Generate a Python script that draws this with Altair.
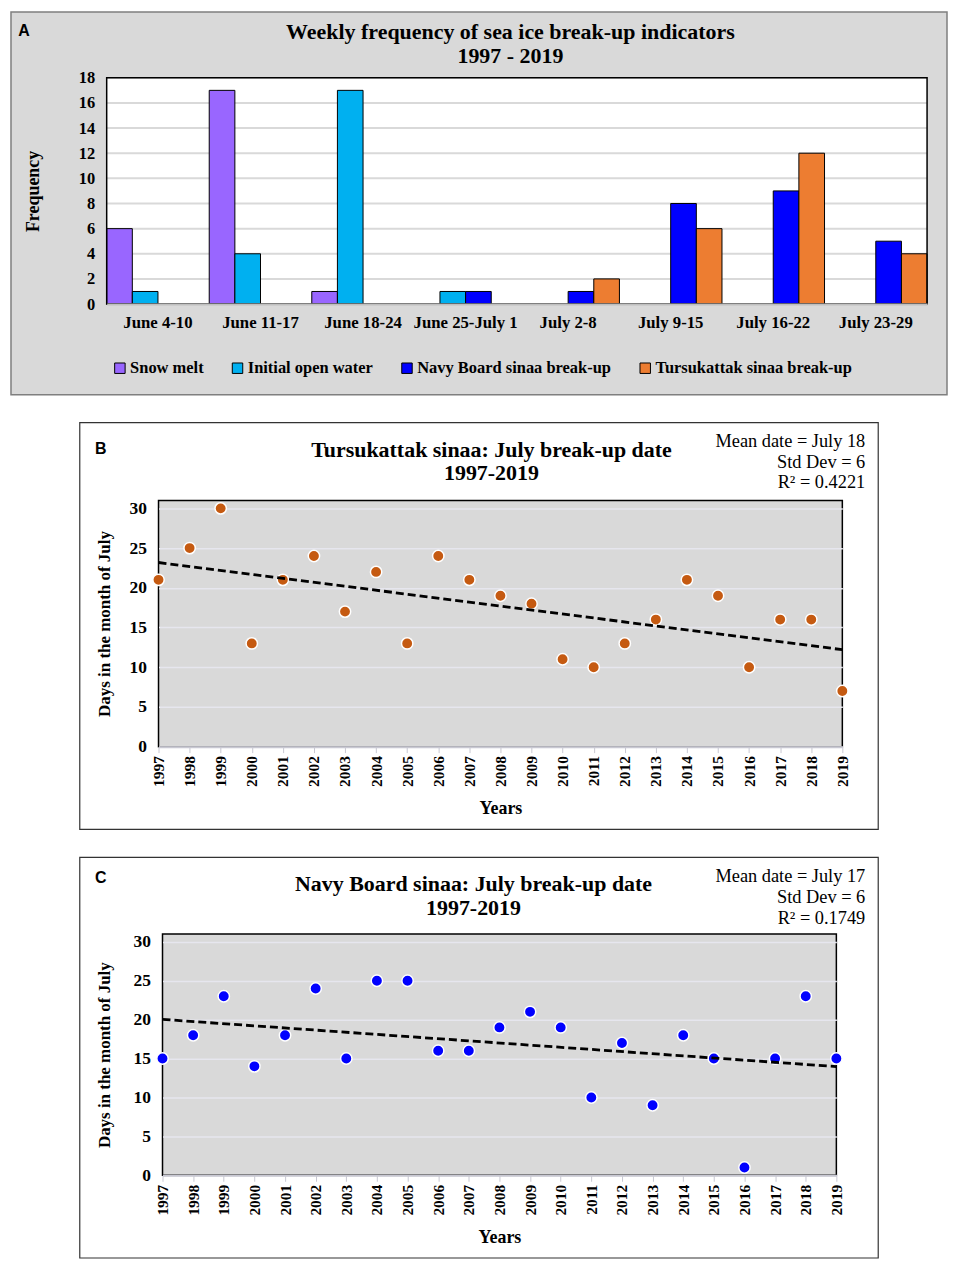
import altair as alt
import pandas as pd

# ---------------- data ----------------
weeks = ["June 4-10", "June 11-17", "June 18-24", "June 25-July 1",
         "July 2-8", "July 9-15", "July 16-22", "July 23-29"]
series = ["Snow melt", "Initial open water",
          "Navy Board sinaa break-up", "Tursukattak sinaa break-up"]
snow_melt = [6, 17, 1, 0, 0, 0, 0, 0]
open_water = [1, 4, 17, 1, 0, 0, 0, 0]
navy_board = [0, 0, 0, 1, 1, 8, 9, 5]
tursukattak = [0, 0, 0, 0, 2, 6, 12, 4]
series_colors = ["#9966FF", "#00B0F0", "#0000FF", "#ED7D31"]
freq_ticks = [0, 2, 4, 6, 8, 10, 12, 14, 16, 18]

years = list(range(1997, 2020))
tursukattak_days = [21, 25, 30, 13, 21, 24, 17, 22, 13, 24, 21, 19,
                    18, 11, 10, 13, 16, 21, 19, 10, 16, 16, 7]
navy_days = [15, 18, 23, 14, 18, 24, 15, 25, 25, 16, 16, 19,
             21, 19, 10, 17, 9, 18, 15, 1, 15, 23, 15]
day_ticks = [0, 5, 10, 15, 20, 25, 30]

title_a = ["Weekly frequency of sea ice break-up indicators", "1997 - 2019"]
title_b = ["Tursukattak sinaa: July break-up date", "1997-2019"]
title_c = ["Navy Board sinaa: July break-up date", "1997-2019"]
annot_b = ["Mean date = July 18", "Std Dev = 6", "R\u00b2 = 0.4221"]
annot_c = ["Mean date = July 17", "Std Dev = 6", "R\u00b2 = 0.1749"]

SERIF = "Liberation Serif"
SANS = "Liberation Sans"
one = pd.DataFrame({"k": [0]})


def text_layer(txt, x, y, size, weight="normal", font=SERIF, align="center"):
    return alt.Chart(one).mark_text(
        text=txt, font=font, fontSize=size, fontWeight=weight, align=align,
        baseline="middle", color="black").encode(x=alt.value(x), y=alt.value(y))


def lead():
    # tiny blank cell so that each row's left edge starts at the same place
    return alt.Chart(one).mark_rect(fill="white").encode(
        x=alt.value(0), x2=alt.value(1), y=alt.value(0), y2=alt.value(1)
    ).properties(width=1, height=1,
                 view=alt.ViewBackground(fill="white", strokeWidth=0))


# ---------------- panel A ----------------
W_A, H_A = 823, 227
rows = []
for s, vals in zip(series, [snow_melt, open_water, navy_board, tursukattak]):
    for w, v in zip(weeks, vals):
        rows.append({"week": w, "series": s, "freq": v})
df_a = pd.DataFrame(rows)

y_a = dict(
    scale=alt.Scale(domain=[0, 18], nice=False),
    axis=alt.Axis(values=freq_ticks, title="Frequency", grid=False, domain=False,
                  ticks=False, labelPadding=12, labelFont=SERIF, labelFontSize=16.5,
                  labelFontWeight="bold", labelColor="black", titleFont=SERIF,
                  titleFontSize=18, titleFontWeight="bold", titleColor="black",
                  titlePadding=36, zindex=1),
)

box_a = alt.Chart(one).mark_rect(fill="#d9d9d9", stroke="#7f7f7f", strokeWidth=1.5).encode(
    x=alt.value(-96), x2=alt.value(W_A + 20), y=alt.value(-66), y2=alt.value(H_A + 91))
bg_a = alt.Chart(one).mark_rect(fill="white").encode(
    x=alt.value(0), x2=alt.value(W_A), y=alt.value(0), y2=alt.value(H_A))
grid_a = alt.Chart(pd.DataFrame({"freq": freq_ticks[1:]})).mark_rule(
    color="#d9d9d9", strokeWidth=2).encode(y=alt.Y("freq:Q", **y_a))
bars_a = alt.Chart(df_a).transform_filter("datum.freq > 0").mark_bar(
    stroke="black", strokeWidth=1).encode(
    x=alt.X("week:N", sort=weeks,
            scale=alt.Scale(domain=weeks, paddingInner=0, paddingOuter=0),
            axis=alt.Axis(title=None, labelAngle=0, ticks=False, domainColor="#bfbfbf",
                          domainWidth=2, labelFont=SERIF, labelFontSize=16.8,
                          labelFontWeight="bold", labelColor="black", labelPadding=11,
                          labelLimit=0, zindex=1)),
    xOffset=alt.XOffset("series:N", scale=alt.Scale(domain=series)),
    y=alt.Y("freq:Q", **y_a),
    color=alt.Color("series:N", scale=alt.Scale(domain=series, range=series_colors),
                    legend=alt.Legend(title=None, orient="none", legendX=104, legendY=283,
                                      direction="horizontal", columns=4,
                                      symbolType="square", symbolSize=110,
                                      symbolStrokeColor="black", symbolStrokeWidth=1,
                                      labelFont=SERIF, labelFontSize=16.5,
                                      labelFontWeight="bold", labelColor="black",
                                      labelLimit=0, columnPadding=25, labelOffset=2)),
)
frame_a = alt.Chart(one).mark_rect(fill="white", fillOpacity=0, stroke="black",
                                   strokeWidth=1.5).encode(
    x=alt.value(0), x2=alt.value(W_A), y=alt.value(0), y2=alt.value(H_A))

panel_a = alt.layer(
    box_a, bg_a, grid_a, bars_a, frame_a,
    text_layer("A", -83, -47, 16, "bold", SANS),
    text_layer(title_a[0], 405, -46, 22, "bold"),
    text_layer(title_a[1], 405, -22, 22, "bold"),
).properties(width=W_A, height=H_A)


# ---------------- panels B and C ----------------
def scatter_panel(days, color, W, H, box, title, title_x, title_y, annot, annot_dx,
                  annot_y, letter, letter_xy, ytitle_pad):
    df = pd.DataFrame({"year": years, "day": days})
    x_enc = alt.X("year:Q", scale=alt.Scale(domain=[1997, 2019], nice=False, zero=False),
                  axis=alt.Axis(values=years, format="d", labelAngle=270, title="Years",
                                grid=False, tickColor="#c8c8d2", tickSize=6,
                                domainColor="#c8c8d2", domainWidth=2, labelFont=SERIF,
                                labelFontSize=15.5, labelFontWeight="bold",
                                labelColor="black", labelPadding=3, titleFont=SERIF,
                                titleFontSize=18, titleFontWeight="bold",
                                titleColor="black", titlePadding=13))
    y_enc = alt.Y("day:Q", scale=alt.Scale(domain=[0, 31], nice=False),
                  axis=alt.Axis(values=day_ticks, title="Days in the month of July",
                                grid=True, gridColor="#e6e6ee", gridWidth=1.5,
                                domain=False, ticks=False, labelPadding=12,
                                labelFont=SERIF, labelFontSize=17.5, labelFontWeight="bold",
                                labelColor="black", titleFont=SERIF, titleFontSize=17,
                                titleFontWeight="bold", titleColor="black",
                                titlePadding=ytitle_pad))
    bl, br, bt, bb = box
    spacer = alt.Chart(one).mark_rect(fill="white").encode(
        x=alt.value(bl - 70), x2=alt.value(bl - 68), y=alt.value(0), y2=alt.value(4))
    outline = alt.Chart(one).mark_rect(fill="white", fillOpacity=0, stroke="#333333",
                                       strokeWidth=1.2).encode(
        x=alt.value(bl), x2=alt.value(W + br), y=alt.value(bt), y2=alt.value(H + bb))
    pts = alt.Chart(df).mark_circle(size=130, color=color, opacity=1, stroke="white",
                                    strokeWidth=1.5).encode(x=x_enc, y=y_enc)
    trend = alt.Chart(df).transform_regression("year", "day").mark_line(
        color="black", strokeDash=[8, 4], strokeWidth=2.8).encode(x=x_enc, y=y_enc)
    layers = [spacer, outline, pts, trend]
    for i, line in enumerate(annot):
        layers.append(text_layer(line, W + annot_dx, annot_y + 21 * i, 18.4, align="right"))
    layers.append(text_layer(letter, letter_xy[0], letter_xy[1], 16, "bold", SANS))
    layers.append(text_layer(title[0], title_x, title_y, 22, "bold"))
    layers.append(text_layer(title[1], title_x, title_y + 24, 22, "bold"))
    return alt.layer(*layers).properties(
        width=W, height=H,
        view=alt.ViewBackground(fill="#d9d9d9", stroke="black", strokeWidth=1.5),
    )


panel_b = scatter_panel(tursukattak_days, "#C55A11", 686, 247, (-79, 36, -78, 83),
                        title_b, 334, -51, annot_b, 23, -60, "B", (-58, -52), 16)
panel_c = scatter_panel(navy_days, "#0000FF", 676, 242, (-83, 42, -77, 83),
                        title_c, 312, -50, annot_c, 29, -58, "C", (-62, -56), 20)

chart = alt.vconcat(
    alt.hconcat(lead(), panel_a, spacing=0),
    alt.hconcat(lead(), panel_b, spacing=0),
    alt.hconcat(lead(), panel_c, spacing=0),
    spacing=24,
).properties(padding=0, background="white")

chart.save("out.html", embed_options={"renderer": "svg", "actions": False})
